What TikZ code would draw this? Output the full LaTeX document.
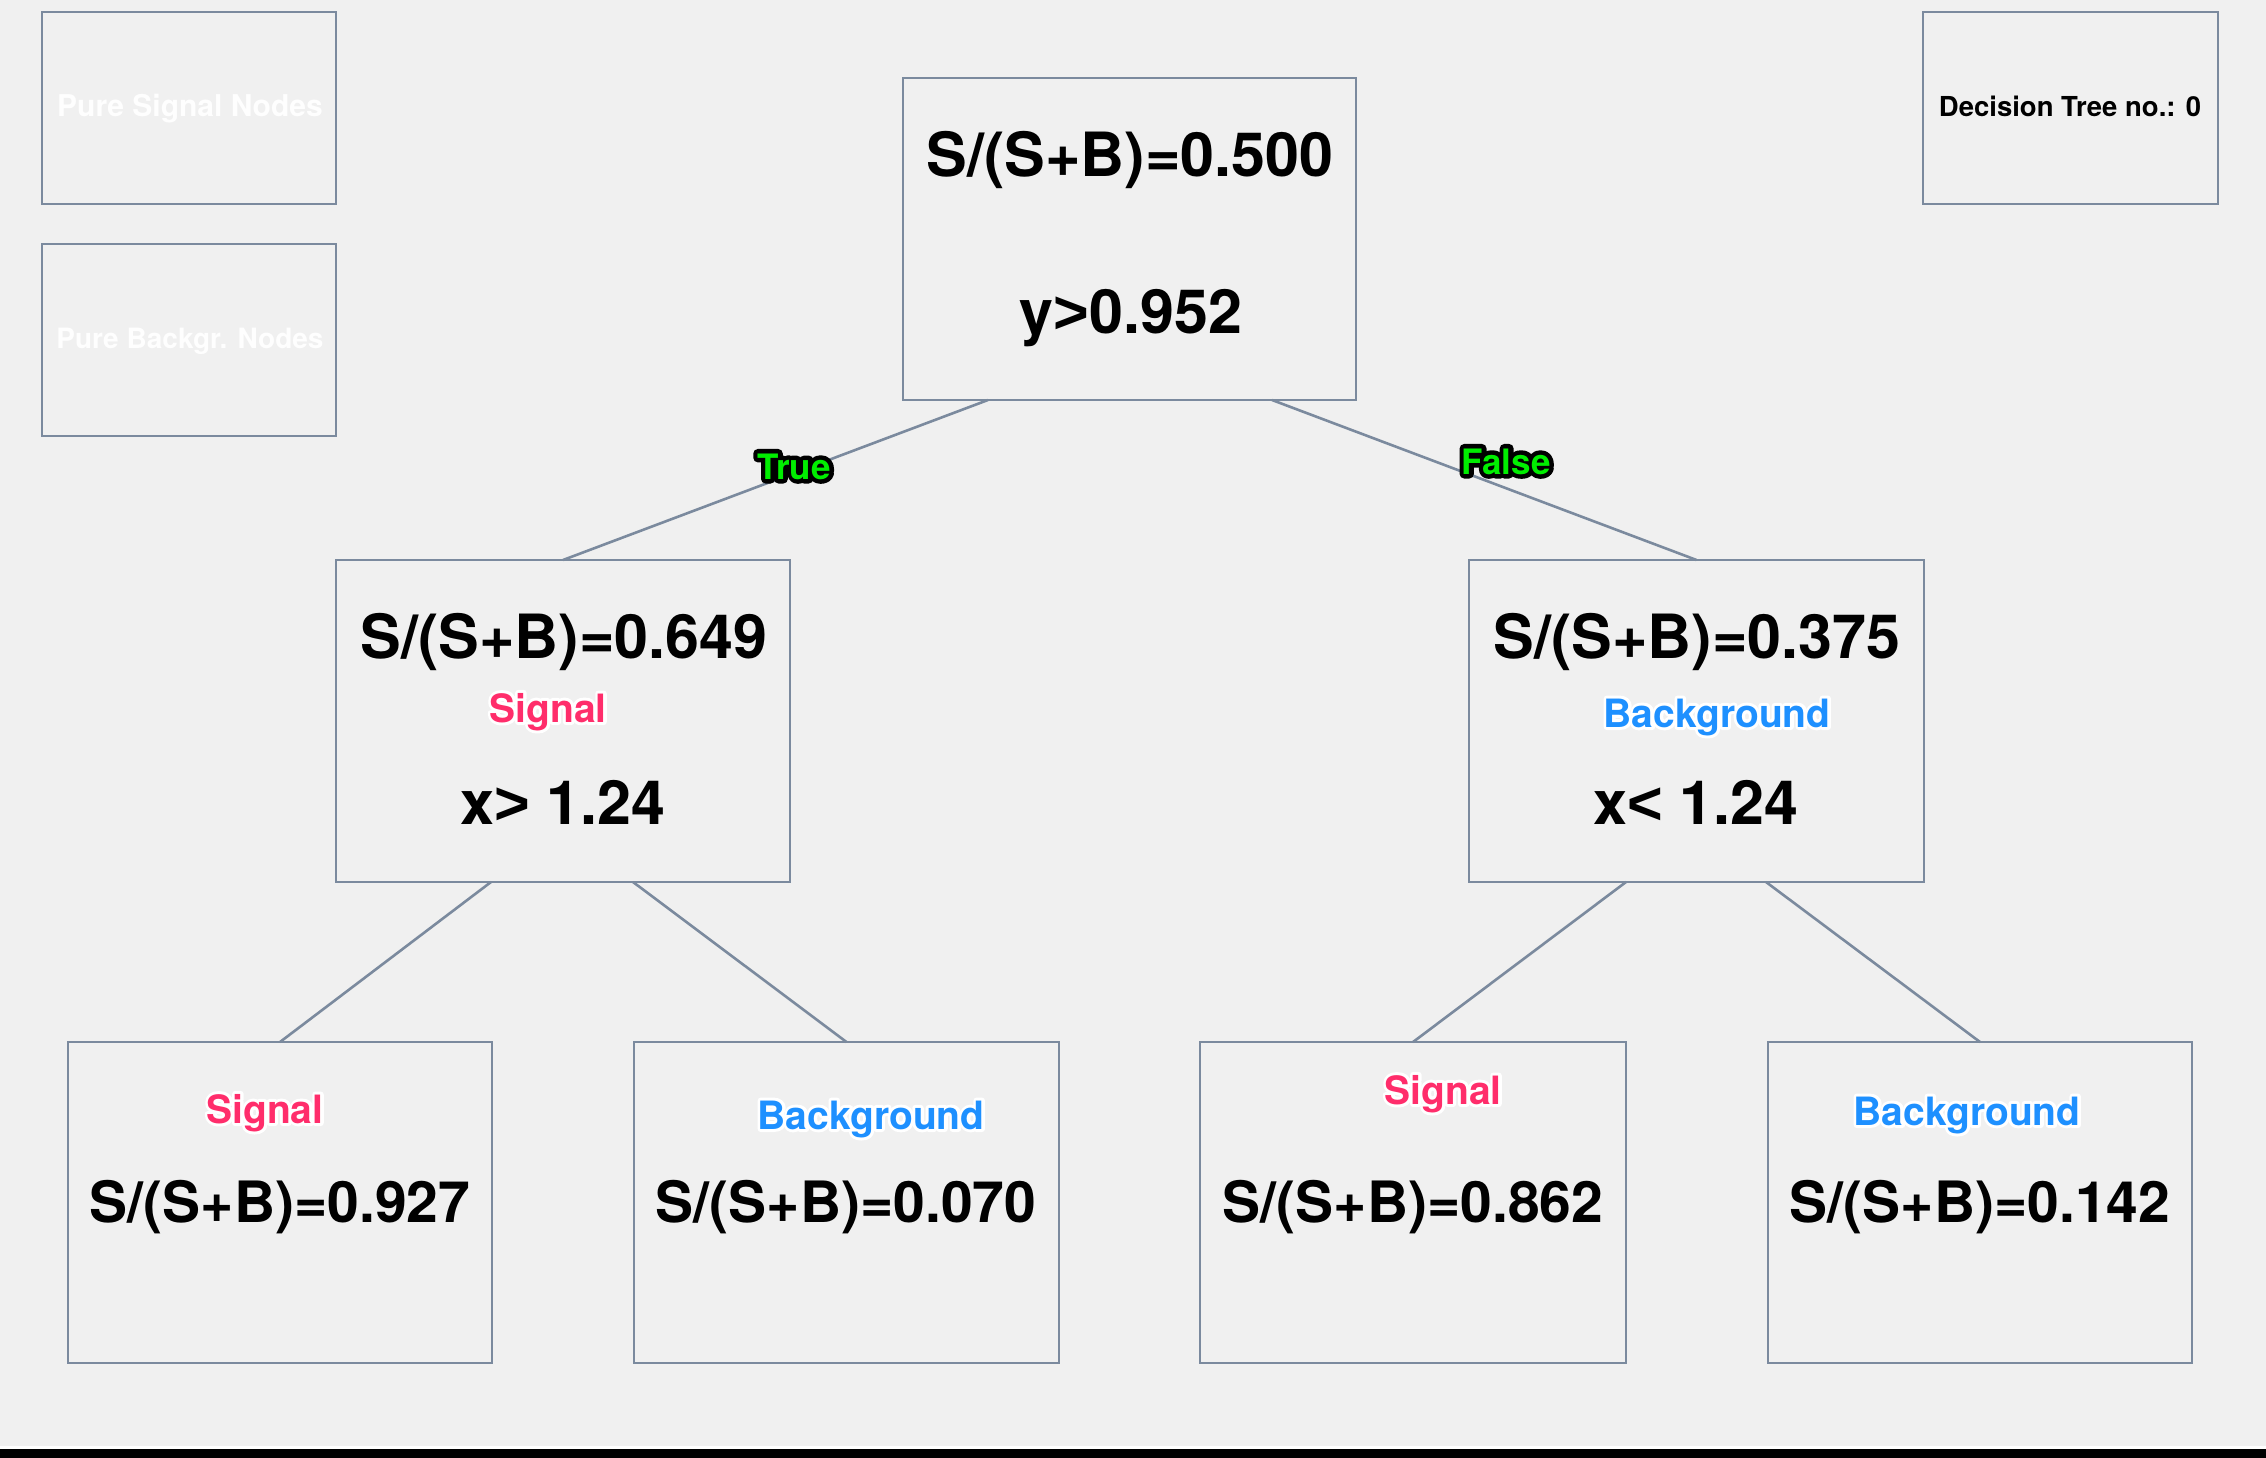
\documentclass[tikz,border=0pt]{standalone}
\usepackage{fontspec}
\setmainfont{TeX Gyre Heros}
\newfontfamily\relfont{Liberation Sans}
\usetikzlibrary{calc}
\definecolor{bgc}{HTML}{F0F0F0}
\definecolor{edgec}{HTML}{7B8A9E}
\definecolor{sigc}{HTML}{FF2D6B}
\definecolor{bkgc}{HTML}{1E90FF}
\definecolor{truec}{HTML}{00EE00}
% outlined text: stroked copy underneath, filled copy on top
\newcommand{\outlinedtext}[4]{\leavevmode\rlap{\special{pdf:literal direct 1 Tr #3 w 1 j 1 J}\textcolor{#1}{#4}\special{pdf:literal direct 0 Tr}}\textcolor{#2}{#4}}
\newcommand{\siglab}[1]{\outlinedtext{white}{sigc}{6}{#1}}
\newcommand{\bkglab}[1]{\outlinedtext{white}{bkgc}{6}{#1}}
\newcommand{\edgelab}[1]{\outlinedtext{black}{truec}{9}{#1}}
\newcommand{\relgt}{{\relfont\bfseries >}}
\newcommand{\rellt}{{\relfont\bfseries <}}
\tikzset{
  box/.style={draw=edgec, line width=2pt, inner sep=0pt, outer sep=0pt},
  midbox/.style={box, minimum width=454pt, minimum height=322pt},
  leafbox/.style={box, minimum width=425pt, minimum height=321pt},
  smallbox/.style={box, minimum width=294pt, minimum height=192pt},
  conn/.style={draw=edgec, line width=2.6pt},
  bigtxt/.style={anchor=base, inner sep=0pt, font=\bfseries\fontsize{61}{61}\selectfont},
  leaftxt/.style={anchor=base, inner sep=0pt, font=\bfseries\fontsize{57}{57}\selectfont},
  classtxt/.style={anchor=base, inner sep=0pt, font=\bfseries\fontsize{39}{39}\selectfont},
  edgetxt/.style={anchor=base, inner sep=0pt, font=\bfseries\fontsize{35}{35}\selectfont},
  legendtxt/.style={anchor=base, inner sep=0pt, text=white!97!bgc},
}
\begin{document}
\begin{tikzpicture}[x=1pt, y=-1pt]
\fill[bgc] (0,0) rectangle (2266,1458);
\useasboundingbox (0,0) rectangle (2266,1458);
\fill[white] (0,1446) rectangle (2266,1449);
\fill[black] (0,1449) rectangle (2266,1458);

% legend boxes
\node[smallbox] (ps) at (189,108) {};
\node[smallbox] (pb) at (189,340) {};
\node[smallbox, minimum width=295pt] (dt) at (2070.5,108) {};
\node[legendtxt, font=\bfseries\fontsize{30}{30}\selectfont] (pst) at (190,117) {Pure Signal Nodes};
\node[legendtxt, font=\bfseries\fontsize{28}{28}\selectfont] (pbt) at (190,348) {Pure Backgr. Nodes};
\node[anchor=base, inner sep=0pt, font=\bfseries\fontsize{27.5}{27.5}\selectfont] (dtt) at (2070,117) {Decision Tree no.: 0};

% tree boxes
\node[box, minimum width=453pt, minimum height=322pt] (root) at (1129.5,239) {};
\node[midbox] (lm) at (563,721) {};
\node[midbox, minimum width=455pt] (rm) at (1696.5,721) {};
\node[leafbox, minimum width=424pt] (b1) at (280,1202.5) {};
\node[leafbox] (b2) at (846.5,1202.5) {};
\node[leafbox, minimum width=426pt] (b3) at (1413,1202.5) {};
\node[leafbox, minimum width=424pt] (b4) at (1980,1202.5) {};

% connectors
\draw[conn] ($(root.south)+(-141.5,0)$) -- (lm.north);
\draw[conn] ($(root.south)+(142.5,0)$) -- (rm.north);
\draw[conn] ($(lm.south)+(-72,0)$) -- (b1.north);
\draw[conn] ($(lm.south)+(70,0)$) -- (b2.north);
\draw[conn] ($(rm.south)+(-70.5,0)$) -- (b3.north);
\draw[conn] ($(rm.south)+(69.5,0)$) -- (b4.north);

% edge labels
\node[edgetxt] (tl) at (794,479) {\edgelab{True}};
\node[edgetxt] (fl) at (1506,474) {\edgelab{False}};

% root text
\node[bigtxt] (r1) at (1130,177) {S/(S+B)=0.500};
\node[bigtxt] (r2) at (1131,333) {y\relgt0.952};

% middle texts
\node[bigtxt] (l1) at (564,658) {S/(S+B)=0.649};
\node[classtxt] (l2) at (548,722) {\siglab{Signal}};
\node[bigtxt] (l3) at (563,824) {x\relgt\ 1.24};
\node[bigtxt] (m1) at (1697,658) {S/(S+B)=0.375};
\node[classtxt] (m2) at (1717,727) {\bkglab{Background}};
\node[bigtxt] (m3) at (1696,824) {x\rellt\ 1.24};

% leaf texts
\node[classtxt] (b1c) at (265,1123) {\siglab{Signal}};
\node[leaftxt] (b1v) at (280,1222) {S/(S+B)=0.927};
\node[classtxt] (b2c) at (871,1129) {\bkglab{Background}};
\node[leaftxt] (b2v) at (846,1222) {S/(S+B)=0.070};
\node[classtxt] (b3c) at (1443,1104) {\siglab{Signal}};
\node[leaftxt] (b3v) at (1413,1222) {S/(S+B)=0.862};
\node[classtxt] (b4c) at (1967,1125) {\bkglab{Background}};
\node[leaftxt] (b4v) at (1980,1222) {S/(S+B)=0.142};
\end{tikzpicture}
\end{document}
